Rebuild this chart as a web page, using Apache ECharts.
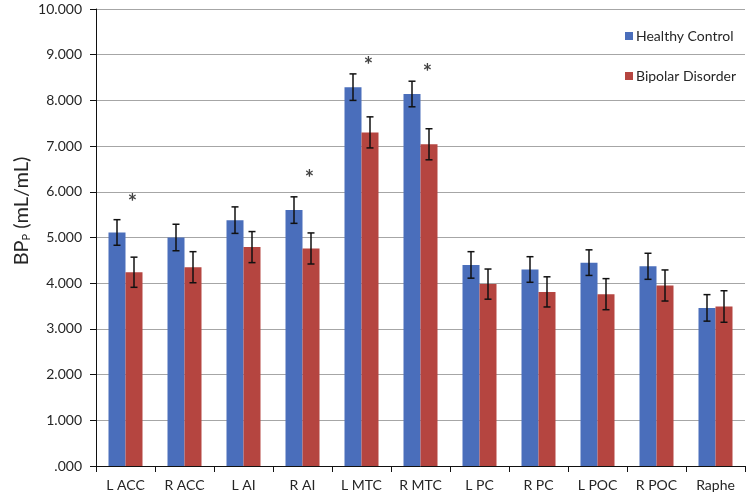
<!DOCTYPE html>
<html>
<head>
<meta charset="utf-8">
<script src="https://cdn.jsdelivr.net/npm/echarts@6/dist/echarts.min.js"></script>
<style>html,body{margin:0;padding:0;background:#fff}#c{width:750px;height:496px}</style>
</head>
<body>
<div id="c"></div>
<script>
var categories = ['L ACC','R ACC','L AI','R AI','L MTC','R MTC','L PC','R PC','L POC','R POC','Raphe'];
var hcMean = [5.11, 5.00, 5.38, 5.60, 8.29, 8.14, 4.40, 4.30, 4.45, 4.37, 3.46];
var hcErr  = [0.28, 0.29, 0.29, 0.29, 0.29, 0.28, 0.29, 0.28, 0.28, 0.285, 0.29];
var bdMean = [4.24, 4.35, 4.79, 4.76, 7.30, 7.04, 3.98, 3.81, 3.76, 3.95, 3.49];
var bdErr  = [0.33, 0.34, 0.34, 0.34, 0.34, 0.34, 0.33, 0.33, 0.34, 0.34, 0.345];
var starCategories = ['L ACC','R AI','L MTC','R MTC'];
var starValues = [5.85, 6.37, 8.85, 8.68];
var yTicks = [0,1,2,3,4,5,6,7,8,9,10];

var BAR_W = 17;
var FONT = 'Lato, "Open Sans", sans-serif';

function errData(mean, err) {
  return mean.map(function (m, i) { return [i, m - err[i], m + err[i]]; });
}
function errRender(side) {
  return function (params, api) {
    var i = api.value(0);
    var lo = api.coord([i, api.value(1)]);
    var hi = api.coord([i, api.value(2)]);
    var x = lo[0] + side * BAR_W / 2;
    var cap = 3.5;
    var st = { stroke: '#111', lineWidth: 1.5 };
    return { type: 'group', children: [
      { type: 'line', shape: { x1: x, y1: lo[1], x2: x, y2: hi[1] }, style: st },
      { type: 'line', shape: { x1: x - cap, y1: lo[1], x2: x + cap, y2: lo[1] }, style: st },
      { type: 'line', shape: { x1: x - cap, y1: hi[1], x2: x + cap, y2: hi[1] }, style: st }
    ]};
  };
}

var chart = echarts.init(document.getElementById('c'));
chart.setOption({
  animation: false,
  backgroundColor: '#fff',
  grid: { left: 96, right: 5, top: 9, bottom: 30, containLabel: false },
  legend: {
    orient: 'vertical', left: 620, top: 24, itemWidth: 8, itemHeight: 8, itemGap: 26,
    icon: 'rect',
    textStyle: { fontFamily: FONT, fontSize: 14, color: '#262626', padding: [0,0,0,-2] },
    data: ['Healthy Control', 'Bipolar Disorder']
  },
  graphic: [{
    type: 'text', x: 11, y: 211, rotation: Math.PI / 2,
    style: {
      text: '{a|BP}{s|P}{a| (mL/mL)}', align: 'center', verticalAlign: 'top',
      rich: {
        a: { fontFamily: FONT, fontSize: 20, fill: '#262626' },
        s: { fontFamily: FONT, fontSize: 11, fill: '#262626', padding: [10, 0, 0, 0] }
      }
    }
  }],
  xAxis: {
    type: 'category', data: categories,
    axisLine: { lineStyle: { color: '#111', width: 1 } },
    axisTick: { show: true, length: 6, lineStyle: { color: '#111' } },
    axisLabel: { fontFamily: FONT, fontSize: 14, color: '#262626', margin: 12 }
  },
  yAxis: {
    type: 'value', min: 0, max: 10, interval: 1,
    axisLine: { show: true, lineStyle: { color: '#111', width: 1 } },
    axisTick: { show: true, length: 6, lineStyle: { color: '#111' } },
    axisLabel: {
      fontFamily: FONT, fontSize: 14, color: '#262626', margin: 14,
      formatter: function (v) { var s = v.toFixed(3); return s.indexOf('0.') === 0 ? s.slice(1) : s; }
    },
    splitLine: { lineStyle: { color: '#A6A6A6', width: 1.2 } }
  },
  series: [
    { name: 'Healthy Control', type: 'bar', data: hcMean, barWidth: BAR_W, barGap: '0%',
      itemStyle: { color: '#4A6EBB' } },
    { name: 'Bipolar Disorder', type: 'bar', data: bdMean, barWidth: BAR_W, barGap: '0%',
      itemStyle: { color: '#B54540' } },
    { type: 'custom', renderItem: errRender(-1), data: errData(hcMean, hcErr), z: 5,
      encode: { x: 0, y: [1, 2] }, silent: true },
    { type: 'custom', renderItem: errRender(1), data: errData(bdMean, bdErr), z: 5,
      encode: { x: 0, y: [1, 2] }, silent: true },
    { type: 'scatter', symbolSize: 0, silent: true, z: 6,
      data: starCategories.map(function (c, i) { return [c, starValues[i]]; }),
      label: { show: true, position: 'inside', formatter: '*', offset: [7, 4],
        fontFamily: FONT, fontSize: 22, fontWeight: 'bold', color: '#111' } }
  ]
});
</script>
</body>
</html>
